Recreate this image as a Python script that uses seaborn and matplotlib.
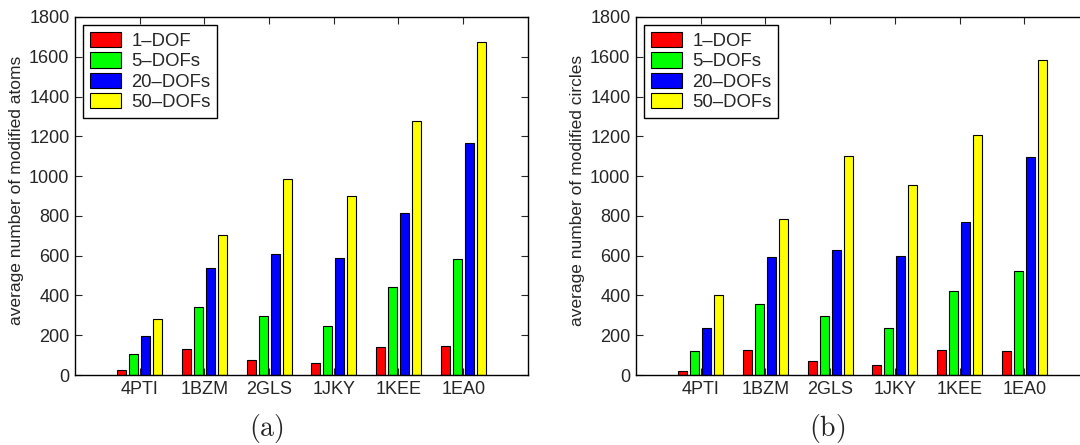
import pandas as pd
import matplotlib.pyplot as plt
import seaborn as sns

sns.set_style("ticks")
plt.rcParams["font.family"] = ["Liberation Sans", "DejaVu Sans"]
plt.rcParams["mathtext.fontset"] = "cm"

proteins = ["4PTI", "1BZM", "2GLS", "1JKY", "1KEE", "1EA0"]
dofs = ["1\u2013DOF", "5\u2013DOFs", "20\u2013DOFs", "50\u2013DOFs"]
colors = ["#ff0000", "#00ff00", "#0000ff", "#ffff00"]

# (a) modified atoms
atoms_1 = [24, 131, 77, 59, 139, 144]
atoms_5 = [104, 342, 298, 248, 442, 582]
atoms_20 = [196, 540, 607, 588, 816, 1168]
atoms_50 = [280, 704, 984, 902, 1277, 1674]

# (b) modified circles
circles_1 = [20, 124, 70, 50, 126, 121]
circles_5 = [119, 359, 295, 235, 422, 521]
circles_20 = [235, 595, 627, 598, 768, 1095]
circles_50 = [401, 784, 1103, 955, 1207, 1584]


def to_long(series):
    rows = []
    for dof, vals in zip(dofs, series):
        for p, v in zip(proteins, vals):
            rows.append({"protein": p, "dof": dof, "value": v})
    return pd.DataFrame(rows)


df_a = to_long([atoms_1, atoms_5, atoms_20, atoms_50])
df_b = to_long([circles_1, circles_5, circles_20, circles_50])

fig = plt.figure(figsize=(10.8, 4.45), dpi=100)
ax_a = fig.add_axes([0.0694, 0.1573, 0.4194, 0.8045])
ax_b = fig.add_axes([0.5889, 0.1573, 0.4194, 0.8045])

panels = [
    (ax_a, df_a, "average number of modified atoms", r"$\mathrm{(a)}$", 0.247),
    (ax_b, df_b, "average number of modified circles", r"$\mathrm{(b)}$", 0.766),
]

for ax, df, ylabel, caption, cx in panels:
    sns.barplot(
        data=df, x="protein", y="value", hue="dof",
        order=proteins, hue_order=dofs, palette=colors,
        width=0.74, gap=0.25, edgecolor="black", linewidth=0.8,
        saturation=1, errorbar=None, ax=ax,
    )
    ax.set_xlim(-1, 6)
    ax.set_ylim(0, 1800)
    ax.set_yticks(range(0, 1801, 200))
    ax.set_xlabel("")
    ax.set_ylabel(ylabel, fontsize=12.5)
    ax.yaxis.set_label_coords(-0.113, 0.515)
    ax.tick_params(direction="in", top=True, right=True, length=5,
                   width=0.8, labelsize=13, pad=4)
    for s in ax.spines.values():
        s.set_linewidth(1.0)
        s.set_color("black")

    leg = ax.get_legend()
    handles = leg.legend_handles
    labels = [t.get_text() for t in leg.texts]
    ax.legend(handles, labels, loc="upper left", fontsize=13.3,
              frameon=True, fancybox=False, edgecolor="black",
              framealpha=1, handlelength=1.7, handleheight=0.9,
              labelspacing=0.13, borderpad=0.35, borderaxespad=0.45,
              handletextpad=0.55)
    ax.get_legend().get_frame().set_linewidth(1.0)

    fig.text(cx, 0.036, caption, fontsize=20, ha="center", va="center")

fig.savefig("out.png", dpi=100)
